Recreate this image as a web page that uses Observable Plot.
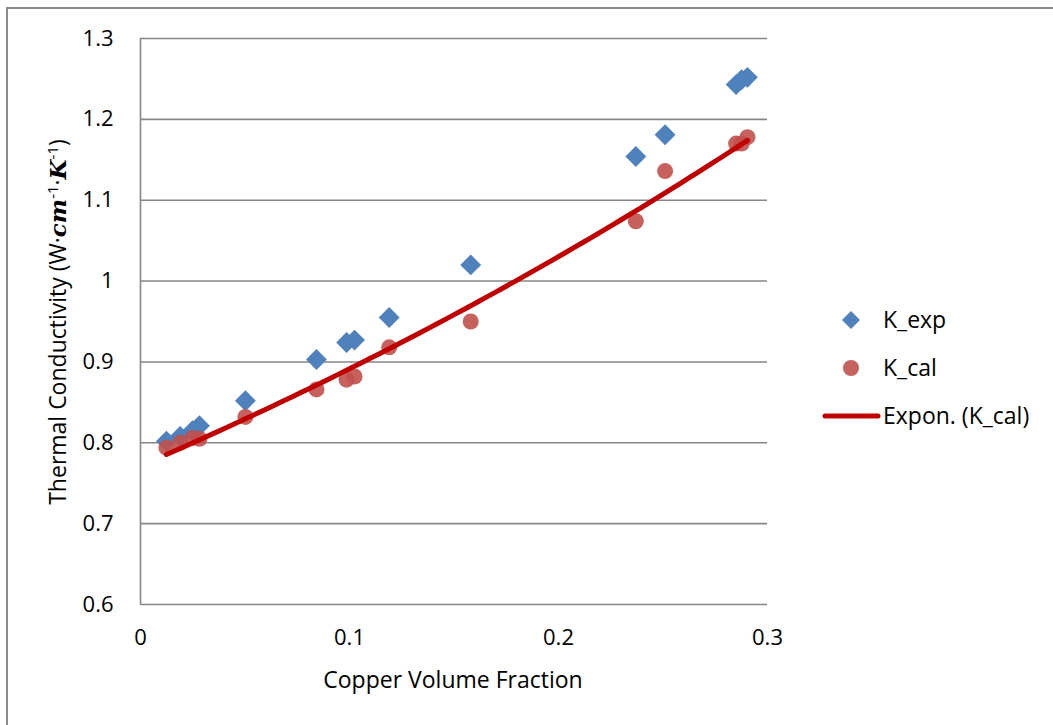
<!DOCTYPE html>
<html>
<head>
<meta charset="utf-8">
<script src="https://cdn.jsdelivr.net/npm/d3@7"></script>
<script src="https://cdn.jsdelivr.net/npm/@observablehq/plot@0.6"></script>
<style>
  html, body { margin: 0; padding: 0; background: #fff; }
  #frame { position: absolute; left: 6px; top: 7px; width: 1060px; height: 730px;
           border-left: 2px solid #8c8c8c; border-top: 2px solid #8c8c8c; }
  #chart { position: absolute; left: 0; top: 0; }
  svg { font-family: "Open Sans", sans-serif; }
</style>
</head>
<body>
<div id="frame"></div>
<div id="chart"></div>
<script>
// Copper volume fraction of each sample
const copperFraction = [0.0124, 0.019, 0.0249, 0.0282, 0.0502, 0.0842, 0.0986, 0.1024, 0.119, 0.158, 0.237, 0.251, 0.285, 0.2876, 0.2904];
// Experimental thermal conductivity
const kExp = [0.802, 0.808, 0.815, 0.821, 0.852, 0.903, 0.924, 0.927, 0.955, 1.020, 1.154, 1.181, 1.243, 1.249, 1.252];
// Calculated thermal conductivity
const kCal = [0.794, 0.800, 0.806, 0.805, 0.832, 0.866, 0.878, 0.882, 0.918, 0.950, 1.074, 1.136, 1.170, 1.170, 1.178];
const xTicks = [0, 0.1, 0.2, 0.3];
const yTicks = [0.6, 0.7, 0.8, 0.9, 1.0, 1.1, 1.2, 1.3];
const seriesNames = ["K_exp", "K_cal", "Expon. (K_cal)"];

const expData = copperFraction.map((x, i) => ({x, y: kExp[i]}));
const calData = copperFraction.map((x, i) => ({x, y: kCal[i]}));

// Exponential trendline (least squares on ln y), as Excel does
const lx = copperFraction, ly = kCal.map(Math.log);
const mx = d3.mean(lx), my = d3.mean(ly);
const b = d3.sum(lx.map((x, i) => (x - mx) * (ly[i] - my))) / d3.sum(lx.map(x => (x - mx) ** 2));
const a = Math.exp(my - b * mx);
const [xmin, xmax] = d3.extent(copperFraction);
const trend = d3.range(0, 61).map(i => {
  const x = xmin + (xmax - xmin) * i / 60;
  return {x, y: a * Math.exp(b * x)};
});

const fmt = d => String(+d.toFixed(1));
const grid = "#868686";
const FS = 22;   // tick labels
const TS = 23;   // titles and legend
const chart = Plot.plot({
  width: 1053,
  height: 725,
  marginLeft: 140,
  marginRight: 286,
  marginTop: 38,
  marginBottom: 121,
  style: {fontSize: FS + "px", fontFamily: "'Open Sans', sans-serif", color: "#000", background: "transparent"},
  x: {domain: [0, 0.3], label: null},
  y: {domain: [0.6, 1.3], label: null},
  marks: [
    Plot.gridY(yTicks, {stroke: grid, strokeOpacity: 1, strokeWidth: 1.6}),
    Plot.ruleX([0], {y1: 0.6, y2: 1.3, stroke: grid, strokeWidth: 1.6}),
    Plot.axisX(xTicks, {tickSize: 0, tickPadding: 25, fontSize: FS, fill: "#000", tickFormat: fmt, label: null}),
    Plot.axisY(yTicks, {tickSize: 0, tickPadding: 27, fontSize: FS, fill: "#000", tickFormat: fmt, label: null}),
    Plot.dot(expData, {x: "x", y: "y", symbol: "diamond2", r: 9.4, fill: "#4F81BD", stroke: "none"}),
    Plot.dot(calData, {x: "x", y: "y", symbol: "circle", r: 8, fill: "#C0504D", fillOpacity: 0.9, stroke: "none"}),
    Plot.line(trend, {x: "x", y: "y", stroke: "#C00000", strokeWidth: 5, strokeLinecap: "round"})
  ]
});
document.getElementById("chart").appendChild(chart);

const svg = d3.select(chart);
// Axis titles
svg.append("text")
  .attr("x", 453).attr("y", 688)
  .attr("text-anchor", "middle")
  .attr("font-size", TS).attr("fill", "#000")
  .text("Copper Volume Fraction");

const yl = svg.append("text")
  .attr("transform", "translate(66,322) rotate(-90)")
  .attr("text-anchor", "middle")
  .attr("font-size", TS).attr("fill", "#000");
const serif = "'DejaVu Serif', 'Liberation Serif', serif";
yl.append("tspan").text("Thermal Conductivity (W·");
yl.append("tspan").attr("font-family", serif).attr("font-weight", "bold").attr("font-style", "italic").text("cm");
yl.append("tspan").attr("font-size", 15).attr("dy", "-0.55em").text("-1");
yl.append("tspan").attr("dy", "0.35em").text("·");
yl.append("tspan").attr("font-family", serif).attr("font-weight", "bold").attr("font-style", "italic").text("K");
yl.append("tspan").attr("font-size", 15).attr("dy", "-0.55em").text("-1");
yl.append("tspan").attr("dy", "0.35em").text(")");

// Legend
const lg = svg.append("g");
lg.append("path").attr("d", "M851,311L860,320L851,329L842,320Z").attr("fill", "#4F81BD");
lg.append("circle").attr("cx", 851).attr("cy", 368).attr("r", 8).attr("fill", "#C0504D").attr("fill-opacity", 0.9);
lg.append("line").attr("x1", 825).attr("x2", 878).attr("y1", 416).attr("y2", 416)
  .attr("stroke", "#C00000").attr("stroke-width", 5).attr("stroke-linecap", "round");
[[seriesNames[0], 320], [seriesNames[1], 368], [seriesNames[2], 416]].forEach(([t, y]) => {
  lg.append("text").attr("x", 883).attr("y", y).attr("dy", "0.36em")
    .attr("text-anchor", "start")
    .attr("font-size", TS).attr("fill", "#000").text(t);
});
</script>
</body>
</html>
